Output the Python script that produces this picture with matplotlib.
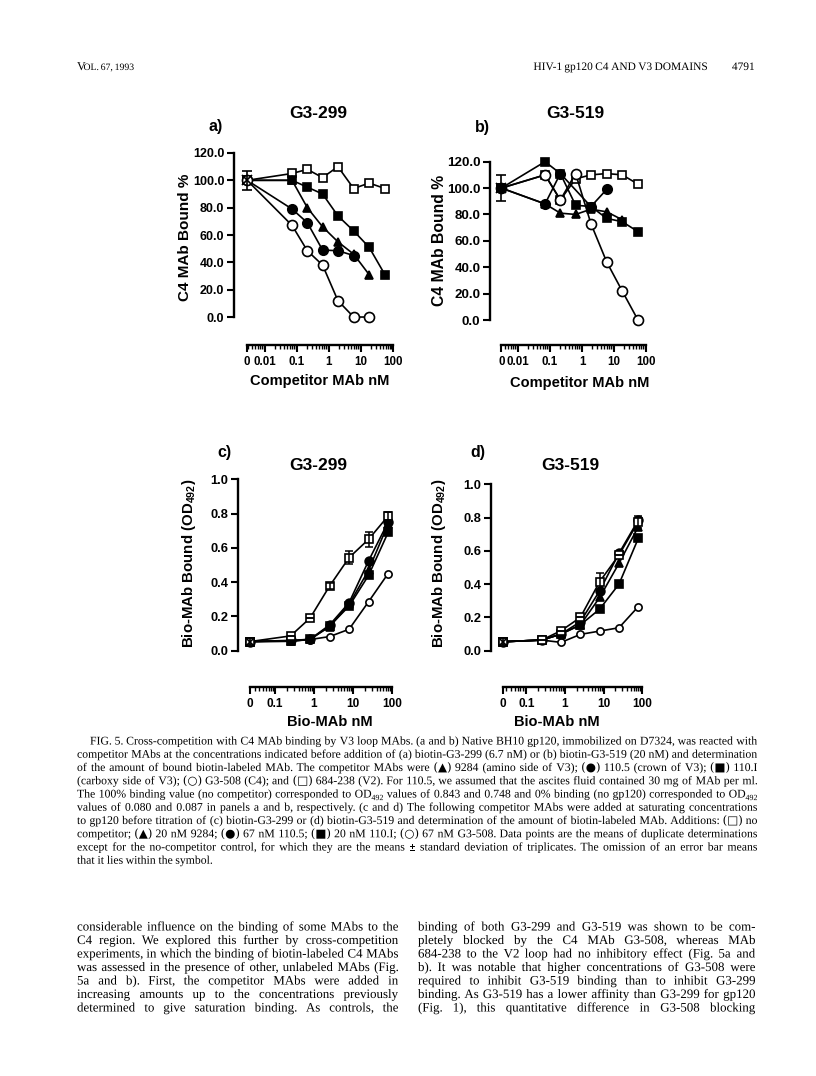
import numpy as np
import matplotlib
matplotlib.use("Agg")
import matplotlib.pyplot as plt
from matplotlib.ticker import FixedLocator, NullFormatter, FixedFormatter
from matplotlib.textpath import TextPath
from matplotlib.patches import PathPatch
from matplotlib.font_manager import FontProperties
from matplotlib.transforms import Affine2D

plt.rcParams['mathtext.fontset'] = 'custom'
plt.rcParams['mathtext.rm'] = 'Liberation Sans'
plt.rcParams['mathtext.bf'] = 'Liberation Sans:bold'

# ---------------- data ----------------
conc_ab = [0.07, 0.21, 0.63, 1.9, 5.9, 18, 56]          # competitor MAb nM
ctrl_a, ctrl_a_err = 100, 7
a_open_sq = [105, 108, 102, 110, 94, 98, 94]
a_fill_sq = [100, 95, 90, 74, 63, 51, 31]
a_fill_tri = [100, 80, 66, 55, 46, 31]
a_fill_circ = [79, 69, 49, 48.5, 45]
a_open_circ = [67, 48.5, 38, 12, 0, 0]

ctrl_b, ctrl_b_err = 100, 10
b_open_sq = [110, 91, 107, 110, 111, 110, 103]
b_fill_sq = [120, 111, 87, 86, 77, 74.5, 67]
b_fill_tri = [88, 81, 80, 84, 82, 76]
b_fill_circ_idx = [0, 1, 3, 4]
b_fill_circ = [88, 111, 86, 99]
b_open_circ = [110, 91, 111, 73, 44, 22, 0]

conc_cd = [0.25, 0.79, 2.5, 7.9, 25, 79]                # Bio-MAb nM
ctrl_c, ctrl_c_err = 0.053, 0.02
c_open_sq = [0.086, 0.19, 0.377, 0.543, 0.65, 0.786]
c_open_sq_err = [0, 0, 0.02, 0.04, 0.045, 0.025]
c_fill_circ = [0.06, 0.066, 0.15, 0.28, 0.525, 0.75]
c_fill_sq = [0.055, 0.066, 0.144, 0.26, 0.44, 0.69]
c_fill_tri = [0.058, 0.066, 0.14, 0.27, 0.47, 0.74]
c_open_circ = [0.055, 0.065, 0.082, 0.125, 0.286, 0.45]

ctrl_d, ctrl_d_err = 0.054, 0.02
d_open_sq = [0.064, 0.12, 0.2, 0.415, 0.575, 0.775]
d_open_sq_err = [0, 0, 0, 0.05, 0, 0.035]
d_fill_circ = [0.064, 0.1, 0.174, 0.36, 0.585, 0.785]
d_fill_tri = [0.064, 0.1, 0.155, 0.32, 0.525, 0.745]
d_fill_sq = [0.064, 0.1, 0.155, 0.25, 0.4, 0.675]
d_open_circ = [0.064, 0.05, 0.098, 0.118, 0.138, 0.265]

ab_xticklabels = ['0', '0.01', '0.1', '1', '10', '100']
cd_xticklabels = ['0', '0.1', '1', '10', '100']

caption_lines = [
    "FIG. 5. Cross-competition with C4 MAb binding by V3 loop MAbs. (a and b) Native BH10 gp120, immobilized on D7324, was reacted with",
    "competitor MAbs at the concentrations indicated before addition of (a) biotin-G3-299 (6.7 nM) or (b) biotin-G3-519 (20 nM) and determination",
    "of the amount of bound biotin-labeled MAb. The competitor MAbs were (▲) 9284 (amino side of V3); (●) 110.5 (crown of V3); (■) 110.I",
    "(carboxy side of V3); (○) G3-508 (C4); and (□) 684-238 (V2). For 110.5, we assumed that the ascites fluid contained 30 mg of MAb per ml.",
    "The 100% binding value (no competitor) corresponded to OD₄₉₂ values of 0.843 and 0.748 and 0% binding (no gp120) corresponded to OD₄₉₂",
    "values of 0.080 and 0.087 in panels a and b, respectively. (c and d) The following competitor MAbs were added at saturating concentrations",
    "to gp120 before titration of (c) biotin-G3-299 or (d) biotin-G3-519 and determination of the amount of biotin-labeled MAb. Additions: (□) no",
    "competitor; (▲) 20 nM 9284; (●) 67 nM 110.5; (■) 20 nM 110.I; (○) 67 nM G3-508. Data points are the means of duplicate determinations",
    "except for the no-competitor control, for which they are the means ± standard deviation of triplicates. The omission of an error bar means",
    "that it lies within the symbol.",
]
body_left = [
    "considerable influence on the binding of some MAbs to the",
    "C4 region. We explored this further by cross-competition",
    "experiments, in which the binding of biotin-labeled C4 MAbs",
    "was assessed in the presence of other, unlabeled MAbs (Fig.",
    "5a and b). First, the competitor MAbs were added in",
    "increasing amounts up to the concentrations previously",
    "determined to give saturation binding. As controls, the",
]
body_right = [
    "binding of both G3-299 and G3-519 was shown to be com-",
    "pletely blocked by the C4 MAb G3-508, whereas MAb",
    "684-238 to the V2 loop had no inhibitory effect (Fig. 5a and",
    "b). It was notable that higher concentrations of G3-508 were",
    "required to inhibit G3-519 binding than to inhibit G3-299",
    "binding. As G3-519 has a lower affinity than G3-299 for gp120",
    "(Fig. 1), this quantitative difference in G3-508 blocking",
]

# ---------------- figure ----------------
W, H = 816, 1076
DPI = 100
fig = plt.figure(figsize=(W / DPI, H / DPI), dpi=DPI)
fig.patch.set_facecolor('white')
SANS = 'Liberation Sans'
SERIF = 'Liberation Serif'


def fx(x):
    return x / W


def fy(y):
    return 1 - y / H


def make_ax(l, r, t, b):
    return fig.add_axes([fx(l), fy(b), (r - l) / W, (b - t) / H])


LW = 1.2
MS = 6.3


def style_axis(ax, xlim, ylim, ybounds, yticks, yfmt, zero, xmaj, xlabels, xbound_hi,
               outward, ysize, xsize):
    ax.set_xscale('log')
    ax.set_xlim(*xlim)
    ax.set_ylim(*ylim)
    for s in ['top', 'right']:
        ax.spines[s].set_visible(False)
    ax.spines['left'].set_linewidth(1.7)
    ax.spines['left'].set_bounds(*ybounds)
    ax.spines['bottom'].set_linewidth(1.7)
    ax.spines['bottom'].set_position(('outward', outward))
    ax.spines['bottom'].set_bounds(zero, xbound_hi)
    ax.set_yticks(yticks)
    ax.set_yticklabels([yfmt % v for v in yticks], fontsize=ysize, fontweight='bold', family=SANS)
    ax.tick_params(axis='y', direction='out', length=5, width=1.5, pad=2)
    ax.xaxis.set_major_locator(FixedLocator([zero] + xmaj))
    ax.xaxis.set_major_formatter(FixedFormatter(xlabels))
    minors = []
    for e in range(-3, 3):
        for k in range(2, 10):
            v = k * 10.0 ** e
            if zero < v < xbound_hi:
                minors.append(v)
    ax.xaxis.set_minor_locator(FixedLocator(minors))
    ax.xaxis.set_minor_formatter(NullFormatter())
    ax.tick_params(axis='x', which='major', direction='out', length=5, width=1.5, pad=3)
    ax.tick_params(axis='x', which='minor', direction='out', length=3, width=1.0)
    for lab in ax.get_xticklabels():
        lab.set_fontweight('bold')
        lab.set_fontsize(xsize)
        lab.set_family(SANS)
    ax.patch.set_alpha(0)


def series(ax, x, y, marker, filled, ms=MS, z=3):
    ax.plot(x, y, color='black', lw=LW, marker=marker, ms=ms,
            mfc='black' if filled else 'white', mec='black', mew=1.2,
            clip_on=False, zorder=z)


# ---------- panel a ----------
z_a = 10 ** -2.56
axa = make_ax(234, 400, 147.5, 322.5)
style_axis(axa, (10 ** -2.97, 10 ** 2.22), (-4, 124), (0, 120), list(range(0, 121, 20)), '%.1f',
           z_a, [0.01, 0.1, 1, 10, 100], ab_xticklabels, 100, 16.2, 9.0, 8.3)
xa = [z_a] + conc_ab
series(axa, xa, [ctrl_a] + a_open_sq, 's', False)
series(axa, xa, [ctrl_a] + a_fill_sq, 's', True)
series(axa, xa[:7], [ctrl_a] + a_fill_tri, '^', True)
series(axa, xa[:6], [ctrl_a] + a_fill_circ, 'o', True, ms=6.8)
series(axa, xa[:7], [ctrl_a] + a_open_circ, 'o', False, ms=7.2)
axa.errorbar([z_a], [ctrl_a], yerr=[ctrl_a_err], fmt='x', color='black', ms=7, mew=1.2,
             capsize=3.5, elinewidth=1.2, capthick=1.2, clip_on=False, zorder=5)

# ---------- panel b ----------
z_b = 10 ** -2.52
axb = make_ax(490, 655, 156.4, 325.3)
style_axis(axb, (10 ** -2.875, 10 ** 2.28), (-4, 124), (0, 120), list(range(0, 121, 20)), '%.1f',
           z_b, [0.01, 0.1, 1, 10, 100], ab_xticklabels, 100, 14.2, 9.6, 8.3)
xb = [z_b] + conc_ab
series(axb, xb, [ctrl_b] + b_open_sq, 's', False)
series(axb, xb, [ctrl_b] + b_open_circ, 'o', False, ms=7.2)
series(axb, xb, [ctrl_b] + b_fill_sq, 's', True)
series(axb, xb[:7], [ctrl_b] + b_fill_tri, '^', True)
series(axb, [z_b] + [conc_ab[i] for i in b_fill_circ_idx], [ctrl_b] + b_fill_circ, 'o', True, ms=6.8, z=4)
axb.errorbar([z_b], [ctrl_b], yerr=[ctrl_b_err], fmt='x', color='black', ms=7, mew=1.2,
             capsize=3.5, elinewidth=1.2, capthick=1.2, clip_on=False, zorder=5)

# ---------- panel c ----------
z_c = 10 ** -1.64
axc = make_ax(238.3, 405, 475.9, 655.8)
yt = [0.0, 0.2, 0.4, 0.6, 0.8, 1.0]
style_axis(axc, (10 ** -1.94, 10 ** 2.33), (-0.03, 1.02), (0, 1), yt, '%.1f',
           z_c, [0.1, 1, 10, 100], cd_xticklabels, 100, 22.2, 9.3, 8.5)
xc = [z_c] + conc_cd
series(axc, xc, [ctrl_c] + c_open_circ, 'o', False, ms=5.2)
series(axc, xc, [ctrl_c] + c_fill_tri, '^', True)
series(axc, xc, [ctrl_c] + c_fill_circ, 'o', True)
series(axc, xc, [ctrl_c] + c_fill_sq, 's', True)
series(axc, xc, [ctrl_c] + c_open_sq, 's', False, z=4)
axc.errorbar(conc_cd, c_open_sq, yerr=c_open_sq_err, fmt='none', ecolor='black', capsize=3,
             elinewidth=1.1, capthick=1.1, zorder=5, clip_on=False)
axc.errorbar([z_c], [ctrl_c], yerr=[ctrl_c_err], fmt='x', color='black', ms=6, mew=1.2,
             capsize=3.5, elinewidth=1.2, capthick=1.2, clip_on=False, zorder=5)

# ---------- panel d ----------
z_d = 10 ** -1.6
axd = make_ax(491, 660, 481, 655.7)
style_axis(axd, (10 ** -1.915, 10 ** 2.46), (-0.03, 1.02), (0, 1), yt, '%.1f',
           z_d, [0.1, 1, 10, 100], cd_xticklabels, 100, 22.3, 9.3, 8.5)
xd = [z_d] + conc_cd
series(axd, xd, [ctrl_d] + d_open_circ, 'o', False, ms=5.2)
series(axd, xd, [ctrl_d] + d_fill_tri, '^', True)
series(axd, xd, [ctrl_d] + d_fill_sq, 's', True)
series(axd, xd, [ctrl_d] + d_fill_circ, 'o', True)
series(axd, xd, [ctrl_d] + d_open_sq, 's', False, z=4)
axd.errorbar(conc_cd, d_open_sq, yerr=d_open_sq_err, fmt='none', ecolor='black', capsize=3,
             elinewidth=1.1, capthick=1.1, zorder=5, clip_on=False)
axd.errorbar([z_d], [ctrl_d], yerr=[ctrl_d_err], fmt='x', color='black', ms=6, mew=1.2,
             capsize=3.5, elinewidth=1.2, capthick=1.2, clip_on=False, zorder=5)

# ---------- panel labels ----------
def ptext(x, y, s, size, rot=0, weight='bold'):
    fig.text(fx(x), fy(y), s, ha='center', va='center', fontsize=size, fontweight=weight,
             family=SANS, rotation=rot)


ptext(318, 113, 'G3-299', 12.5)
ptext(216, 127, 'a)', 11.5)
ptext(185, 237, 'C4 MAb Bound %', 11.0, rot=90)
ptext(320, 381, 'Competitor MAb nM', 10.5)

ptext(575, 113, 'G3-519', 12.5)
ptext(482, 128, 'b)', 11.5)
ptext(440, 240, 'C4 MAb Bound %', 11.3, rot=90)
ptext(580, 383, 'Competitor MAb nM', 10.5)

ptext(318, 465, 'G3-299', 12.5)
ptext(224, 453, 'c)', 11.5)
ptext(189, 563, r'Bio-MAb Bound (OD$_{\mathbf{492}}$)', 10.8, rot=90)
ptext(330, 722, 'Bio-MAb nM', 10.5)

ptext(570, 465, 'G3-519', 12.5)
ptext(478, 453, 'd)', 11.5)
ptext(439, 563, r'Bio-MAb Bound (OD$_{\mathbf{492}}$)', 10.8, rot=90)
ptext(557, 722, 'Bio-MAb nM', 10.5)

# ---------- page text (glyph outlines, exact baselines) ----------
PX = DPI / 72.0
SUBS = {'₀': '0', '₁': '1', '₂': '2', '₃': '3', '₄': '4', '₅': '5', '₆': '6', '₇': '7', '₈': '8', '₉': '9'}


def fam_for(word):
    return SERIF if all(ord(c) < 256 for c in word) else 'DejaVu Serif'


def tp(s, size, fam):
    return TextPath((0, 0), s, size=size, prop=FontProperties(family=fam))


def word_parts(word, size):
    """Return list of (path, dx_px, dy_px) and total width in px."""
    if any(c in SUBS for c in word):
        main = ''.join(c for c in word if c not in SUBS)
        sub = ''.join(SUBS[c] for c in word if c in SUBS)
        pm = tp(main, size, SERIF)
        wm = pm.get_extents().x1 * PX + 0.3
        ps = tp(sub, size * 0.68, SERIF)
        ws = ps.get_extents().x1 * PX
        return [(pm, 0, 0), (ps, wm, -0.22 * size * PX)], wm + ws
    p = tp(word, size, fam_for(word))
    return [(p, 0, 0)], p.get_extents().x1 * PX


def wwidth(word, size):
    return word_parts(word, size)[1]


def space_w(size):
    return (tp('a a', size, SERIF).get_extents().x1 - tp('aa', size, SERIF).get_extents().x1) * PX


def natural_ratio(line, x0, x1, size):
    words = line.split()
    tot = sum(wwidth(w, size) for w in words) + (len(words) - 1) * space_w(size)
    return (x1 - x0) / tot


def place_line(line, x0, x1, y, size, justify=True):
    words = line.split()
    parts = [word_parts(w, size) for w in words]
    ws = [p[1] for p in parts]
    if justify and len(words) > 1:
        gap = (x1 - x0 - sum(ws)) / (len(words) - 1)
    else:
        gap = space_w(size)
    x = x0
    for (plist, w) in parts:
        for path, dx, dy in plist:
            tr = Affine2D().scale(PX).translate(x + dx, H - y + dy)
            fig.add_artist(PathPatch(path, transform=tr, facecolor='black', edgecolor='none', lw=0))
        x += w + gap


# header
place_line('V', 77, 84, 70, 8.6, justify=False)
place_line('OL. 67, 1993', 83.5, 200, 70, 7.0, justify=False)
hdr = 'HIV-1 gp120 C4 AND V3 DOMAINS'
hw = natural_ratio(hdr, 0, 1, 8.2)
place_line(hdr, 707 - 1 / hw, 707, 70, 8.2, justify=False)
pw = wwidth('4791', 8.2)
place_line('4791', 754 - pw, 754, 70, 8.2, justify=False)

# choose font sizes so the tightest justified line just fits
s0 = 8.0
r_cap = min(natural_ratio(l, 90 if i == 0 else 77, 757, s0) for i, l in enumerate(caption_lines[:-1]))
cap_size = s0 * r_cap * 0.985
r_body = min([natural_ratio(l, 77, 398, s0) for l in body_left] +
             [natural_ratio(l, 418, 755, s0) for l in body_right])
body_size = min(s0 * r_body * 0.985, 10.0)

for i, line in enumerate(caption_lines):
    y = 744.5 + 13.25 * i
    x0 = 90 if i == 0 else 77
    place_line(line, x0, 757, y, cap_size, justify=(i < len(caption_lines) - 1))

for i, line in enumerate(body_left):
    place_line(line, 77, 398, 930.5 + 13.5 * i, body_size)
for i, line in enumerate(body_right):
    place_line(line, 418, 755, 930.5 + 13.5 * i, body_size)

fig.savefig('out.png', dpi=DPI, facecolor='white')
